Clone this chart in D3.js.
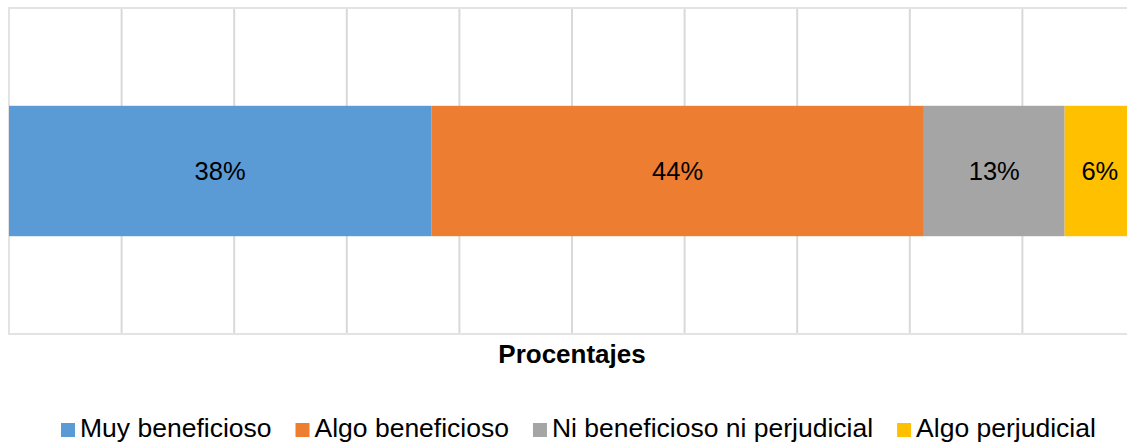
<!DOCTYPE html>
<html>
<head>
<meta charset="utf-8">
<script src="https://cdn.jsdelivr.net/npm/d3@7"></script>
<style>
    html, body { margin: 0; padding: 0; background: #fff; }
    svg { display: block; font-family: "Liberation Sans", Arial, sans-serif; }
</style>
</head>
<body>
<svg width="1127" height="445"></svg>
<script>
// data
var categories = ["Procentajes"];
var seriesNames = ["Muy beneficioso", "Algo beneficioso", "Ni beneficioso ni perjudicial", "Algo perjudicial"];
var seriesValues = [0.375, 0.4375, 0.125, 0.0625];
var seriesColors = ["#5B9BD5", "#ED7D31", "#A5A5A5", "#FFC000"];
var xTicks = [0, 0.1, 0.2, 0.3, 0.4, 0.5, 0.6, 0.7, 0.8, 0.9, 1];

(function () {
    var svg = d3.select("svg");
    var plot = { left: 9, top: 8, right: 1135, bottom: 334 };

    var x = d3.scaleLinear().domain([0, 1]).range([plot.left, plot.right]);
    var y = d3.scaleBand().domain(categories).range([plot.top, plot.bottom])
        .paddingInner(0).paddingOuter(0.75);

    // stack the series
    var row = { cat: categories[0] };
    seriesNames.forEach(function (n, i) { row[n] = seriesValues[i]; });
    var stacked = d3.stack().keys(seriesNames)([row]);

    // gridlines
    var g = svg.append("g");
    g.selectAll(".grid")
        .data(xTicks)
        .enter().append("line")
        .attr("class", "grid")
        .attr("x1", function (d) { return x(d); })
        .attr("x2", function (d) { return x(d); })
        .attr("y1", plot.top)
        .attr("y2", plot.bottom)
        .attr("stroke", "#d9d9d9")
        .attr("stroke-width", 2);

    g.append("rect")
        .attr("x", plot.left)
        .attr("y", plot.top)
        .attr("width", plot.right - plot.left)
        .attr("height", plot.bottom - plot.top)
        .attr("fill", "none")
        .attr("stroke", "#e3e3e3")
        .attr("stroke-width", 2);

    // bars
    var fmt = d3.format(".0%");
    var layers = g.selectAll(".layer")
        .data(stacked)
        .enter().append("g")
        .attr("class", "layer");

    layers.append("rect")
        .attr("x", function (d) { return x(d[0][0]); })
        .attr("y", y(categories[0]))
        .attr("width", function (d) { return x(d[0][1]) - x(d[0][0]); })
        .attr("height", y.bandwidth())
        .attr("fill", function (d, i) { return seriesColors[i]; });

    layers.append("text")
        .attr("x", function (d) { return (x(d[0][0]) + x(d[0][1])) / 2; })
        .attr("y", y(categories[0]) + y.bandwidth() / 2)
        .attr("dy", "0.36em")
        .attr("text-anchor", "middle")
        .attr("font-size", "25.5px")
        .attr("fill", "#000")
        .text(function (d, i) { return fmt(seriesValues[i]); });

    // axis title
    svg.append("text")
        .attr("x", (plot.left + plot.right) / 2)
        .attr("y", 363)
        .attr("text-anchor", "middle")
        .attr("font-size", "26px")
        .attr("font-weight", "bold")
        .attr("fill", "#000")
        .text(categories[0]);

    // legend
    var legend = svg.append("g");
    var lx = 61;
    seriesNames.forEach(function (n, i) {
        legend.append("rect")
            .attr("x", lx)
            .attr("y", 423)
            .attr("width", 14)
            .attr("height", 14)
            .attr("fill", seriesColors[i]);
        var t = legend.append("text")
            .attr("x", lx + 19)
            .attr("y", 437)
            .attr("font-size", "26.5px")
            .attr("fill", "#000")
            .text(n);
        lx += 19 + t.node().getComputedTextLength() + 24;
    });
}());
</script>
</body>
</html>
